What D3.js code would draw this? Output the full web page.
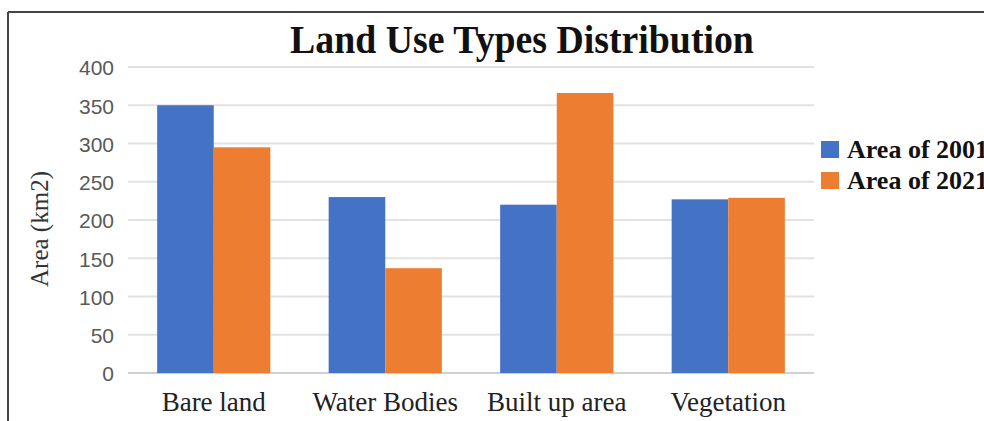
<!DOCTYPE html>
<html lang="en">
  <head>
    <meta charset="UTF-8" />
    <title>Land Use Types Distribution</title>
    <script src="https://d3js.org/d3.v7.min.js"></script>
    <style>
      body {
        margin: 0;
        background: #fff;
        overflow: hidden;
      }
      svg {
        display: block;
      }
      .tick-label {
        font-family: "Liberation Sans", Arial, sans-serif;
        font-size: 21px;
        fill: #595959;
      }
      .cat-label {
        font-family: "Liberation Serif", "Times New Roman", serif;
        font-size: 27px;
        fill: #222;
      }
    </style>
  </head>
  <body>
    <svg width="984" height="421"></svg>
    <script>
      // Chart data
      const categories = ["Bare land", "Water Bodies", "Built up area", "Vegetation"];
      const seriesNames = ["Area of 2001", "Area of 2021"];
      const area2001 = [350, 230, 220, 227];
      const area2021 = [295, 137, 366, 229];
      const yTicks = [0, 50, 100, 150, 200, 250, 300, 350, 400];
      const colors = ["#4472c4", "#ed7d31"];

      const svg = d3.select("svg");

      // Frame around the chart (clipped on right and bottom)
      svg.append("line")
        .attr("x1", 8).attr("x2", 984).attr("y1", 12).attr("y2", 12)
        .attr("stroke", "#444").attr("stroke-width", 2);
      svg.append("line")
        .attr("x1", 8).attr("x2", 8).attr("y1", 12).attr("y2", 421)
        .attr("stroke", "#444").attr("stroke-width", 2);

      // Plot area
      const plotLeft = 128, plotRight = 814, plotTop = 67, plotBottom = 373;

      const x = d3.scaleBand()
        .domain(categories)
        .range([plotLeft, plotRight])
        .paddingInner(0.34)
        .paddingOuter(0.17);

      const xSub = d3.scaleBand()
        .domain(seriesNames)
        .range([0, x.bandwidth()]);

      const y = d3.scaleLinear()
        .domain([0, 400])
        .range([plotBottom, plotTop]);

      // Gridlines
      svg.append("g")
        .selectAll("line")
        .data(yTicks)
        .join("line")
        .attr("x1", plotLeft)
        .attr("x2", plotRight)
        .attr("y1", (d) => y(d))
        .attr("y2", (d) => y(d))
        .attr("stroke", (d) => (d === 0 ? "#d0d0d0" : "#e2e2e2"))
        .attr("stroke-width", 2);

      // Y tick labels
      svg.append("g")
        .selectAll("text")
        .data(yTicks)
        .join("text")
        .attr("class", "tick-label")
        .attr("x", 114)
        .attr("y", (d) => y(d) + 1)
        .attr("dy", "0.35em")
        .attr("text-anchor", "end")
        .text((d) => d);

      // Bars
      const rows = categories.map((c, i) => ({
        category: c,
        values: [area2001[i], area2021[i]],
      }));

      const groups = svg.append("g")
        .selectAll("g")
        .data(rows)
        .join("g")
        .attr("transform", (d) => `translate(${x(d.category)},0)`);

      groups.selectAll("rect")
        .data((d) => d.values.map((v, j) => ({ name: seriesNames[j], value: v, j })))
        .join("rect")
        .attr("x", (d) => xSub(d.name))
        .attr("y", (d) => y(d.value))
        .attr("width", xSub.bandwidth())
        .attr("height", (d) => y(0) - y(d.value))
        .attr("fill", (d) => colors[d.j]);

      // Category labels
      svg.append("g")
        .selectAll("text")
        .data(categories)
        .join("text")
        .attr("class", "cat-label")
        .attr("x", (d) => x(d) + x.bandwidth() / 2)
        .attr("y", 411)
        .attr("text-anchor", "middle")
        .text((d) => d);

      // Title (slightly condensed)
      svg.append("text")
        .attr("transform", "translate(522,53) scale(0.945,1)")
        .attr("text-anchor", "middle")
        .style("font-family", "'Liberation Serif', 'Times New Roman', serif")
        .style("font-weight", "bold")
        .style("font-size", "40px")
        .style("fill", "#111")
        .text("Land Use Types Distribution");

      // Y axis title
      svg.append("text")
        .attr("transform", "translate(48,229) rotate(-90)")
        .attr("text-anchor", "middle")
        .style("font-family", "'Liberation Serif', 'Times New Roman', serif")
        .style("font-size", "25px")
        .style("fill", "#333")
        .text("Area (km2)");

      // Legend (text runs off the right edge, as in the original)
      const legend = svg.append("g")
        .selectAll("g")
        .data(seriesNames)
        .join("g")
        .attr("transform", (d, i) => `translate(821,${141 + i * 31})`);

      legend.append("rect")
        .attr("width", 18)
        .attr("height", 17)
        .attr("fill", (d, i) => colors[i]);

      legend.append("text")
        .attr("x", 26)
        .attr("y", 17)
        .style("font-family", "'Liberation Serif', 'Times New Roman', serif")
        .style("font-weight", "bold")
        .style("font-size", "26px")
        .style("fill", "#111")
        .text((d) => d);
    </script>
  </body>
</html>
